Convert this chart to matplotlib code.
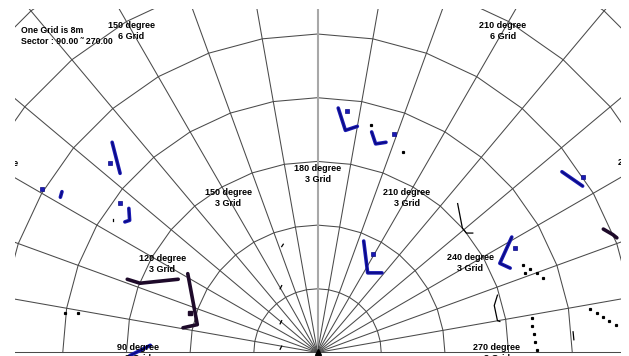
import numpy as np
import matplotlib
matplotlib.use("Agg")
import matplotlib.pyplot as plt

# sonar sector grid: one grid ring = 8 m, bearings 90..270 deg, 180 straight up
GRID_M = 8.0
bearings = list(range(90, 271, 10))
ring_count = 7

# echo tracks, x/y in metres from the sensor
blue_tracks = [
    [(-25.8, 26.4), (-24.8, 22.5)],
    [(-32.1, 20.2), (-32.3, 19.5)],
    [(-23.7, 18.1), (-23.6, 16.6), (-24.2, 16.4)],
    [(2.6, 30.7), (3.5, 27.9), (5.0, 28.4)],
    [(6.8, 27.7), (7.3, 26.2), (8.6, 26.4)],
    [(30.7, 22.7), (33.3, 20.9)],
    [(5.8, 14.0), (6.3, 10.0), (8.1, 10.0)],
    [(24.4, 14.5), (22.9, 11.2), (24.2, 10.6)],
    [(-23.6, -0.4), (-21.0, 0.9)],
]
blue_dots_x = [-26.1, -34.6, -24.8, 3.7, 9.6, 33.3, 7.0, 24.8]
blue_dots_y = [23.8, 20.5, 18.8, 30.3, 27.4, 22.0, 12.4, 13.1]

dark_tracks = [
    [(-23.9, 9.2), (-22.3, 8.7), (-17.5, 9.2)],
    [(-16.3, 9.9), (-15.1, 3.5), (-16.9, 3.1)],
    [(35.9, 15.5), (37.1, 14.8), (37.6, 14.4)],
]
dark_dots_x = [-16.0]
dark_dots_y = [5.0]

thin_tracks = [
    [(17.6, 18.7), (18.2, 15.6), (18.7, 15.0), (19.5, 15.0)],
    [(22.6, 7.2), (22.2, 5.9), (22.6, 4.0), (22.9, 3.9)],
    [(-25.7, 16.8), (-25.7, 16.5)],
    [(-4.3, 13.6), (-4.5, 13.3)],
    [(-4.5, 8.4), (-4.7, 8.0)],
    [(-4.5, 4.0), (-4.7, 3.6)],
    [(-4.5, 0.8), (-4.7, 0.4)],
    [(32.1, 2.6), (32.2, 1.6)],
]
speck_x = [6.7, 10.7, 25.8, 26.7, 26.1, 27.6, 28.3,
           26.9, 27.0, 27.2, 27.3, 27.6,
           34.2, 35.1, 35.9, 36.6, 37.5, -31.7, -30.1]
speck_y = [28.6, 25.2, 11.0, 10.5, 10.0, 10.0, 9.4,
           4.3, 3.3, 2.3, 1.3, 0.3,
           5.5, 5.0, 4.5, 4.0, 3.5, 5.0, 5.0]

# range labels: (bearing, grids, label x, label y in metres)
labels = [
    (150, 6, -23.4, 40.4), (210, 6, 23.3, 40.4),
    (180, 3, 0.0, 22.4), (150, 3, -11.2, 19.4), (210, 3, 11.2, 19.4),
    (120, 3, -19.5, 11.1), (240, 3, 19.2, 11.2),
    (90, 3, -22.5, -0.1), (270, 3, 22.5, -0.1),
    (120, 6, -40.6, 23.1), (240, 6, 40.7, 23.2),
]


def polar_xy(deg, r):
    t = np.radians(deg)
    return -r * np.sin(t), -r * np.cos(t)


fig = plt.figure(figsize=(6.29, 3.56), dpi=100)
ax = fig.add_axes([15 / 629, 0, 606 / 629, 347 / 356])
ax.set_xlim(-38.0, 38.12)
ax.set_ylim(-0.44, 43.14)
ax.axis("off")

grid_col = "#4a4a4a"
for k in range(1, ring_count + 1):
    xs, ys = polar_xy(np.array(bearings, float), k * GRID_M)
    ax.plot(xs, ys, color=grid_col, lw=0.75, zorder=1)
for b in bearings:
    xs, ys = polar_xy(np.array([b, b], float), np.array([0, 70.0]))
    if b == 180:
        ax.plot(xs, ys, color="#a8a8a8", lw=1.5, zorder=1)
    else:
        ax.plot(xs, ys, color=grid_col, lw=0.75, zorder=1)
ax.plot([0], [0.1], marker="^", color="black", ms=4, zorder=2)

for tr in blue_tracks:
    tx, ty = zip(*tr)
    ax.plot(tx, ty, color="#1a1ab4", lw=2.6, solid_capstyle="round", zorder=3)
    ax.plot(tx, ty, color="#0a0a80", lw=1.0, zorder=3)
ax.plot(blue_dots_x, blue_dots_y, "s", color="#1a1ab4", ms=2.8, mec="#0a0a80", mew=0.5, ls="none", zorder=3)

for tr in dark_tracks:
    tx, ty = zip(*tr)
    ax.plot(tx, ty, color="#1e0a2a", lw=2.6, solid_capstyle="round", zorder=3)
ax.plot(dark_dots_x, dark_dots_y, "s", color="#1e0a2a", ms=2.5, ls="none", zorder=3)

for tr in thin_tracks:
    tx, ty = zip(*tr)
    ax.plot(tx, ty, color="black", lw=0.9, zorder=3)
ax.plot(speck_x, speck_y, "s", color="black", ms=1.3, ls="none", zorder=3)

font = dict(family=["Liberation Sans", "DejaVu Sans"], fontsize=6.5, fontweight="bold")
for b, g, lx, ly in labels:
    ax.text(lx, ly, f"{b} degree\n{g} Grid", ha="center", va="center",
            linespacing=1.25, clip_on=True, zorder=4, **font)

head = dict(font, fontsize=6.3)
ax.text(-37.2, 39.7, "One Grid is 8m\nSector : 90.00 \u02dc 270.00", ha="left", va="center",
        linespacing=1.3, zorder=4, **head)

fig.savefig("out.png", dpi=100)
